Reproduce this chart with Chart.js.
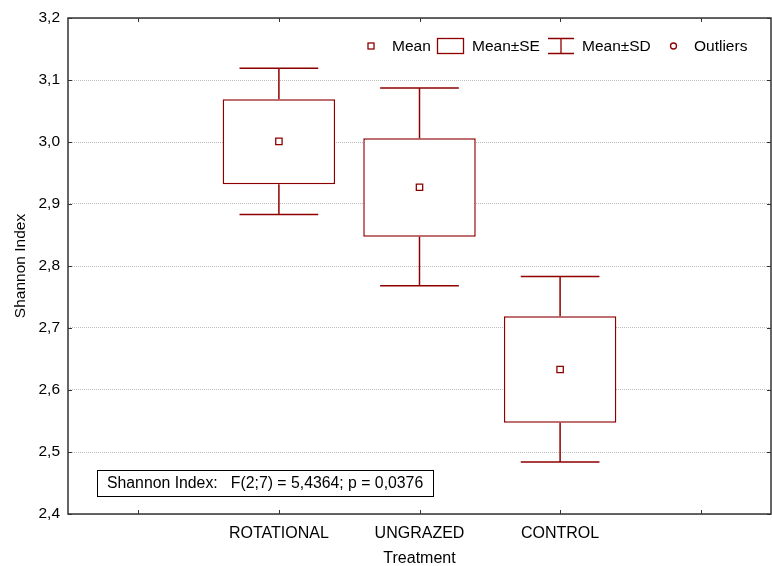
<!DOCTYPE html>
<html>
<head>
<meta charset="utf-8">
<script src="https://cdn.jsdelivr.net/npm/chart.js@4/dist/chart.umd.min.js"></script>
<style>
  body { margin: 0; background: #fff; }
  canvas { display: block; }
</style>
</head>
<body>
<canvas id="shannonChart" width="772" height="566"></canvas>
<script>
// Shannon index by treatment (mean, SE box, SD whiskers)

const categories = ['', 'ROTATIONAL', 'UNGRAZED', 'CONTROL', '']
const meanVals = [null, 3.001, 2.927, 2.633, null]
const seLow = [null, 2.932, 2.847, 2.547, null]
const seHigh = [null, 3.069, 3.006, 2.719, null]
const sdLow = [null, 2.883, 2.768, 2.484, null]
const sdHigh = [null, 3.119, 3.087, 2.783, null]
const legendLabels = ['Mean', 'Mean±SE', 'Mean±SD', 'Outliers']
const statText = 'Shannon Index:   F(2;7) = 5,4364; p = 0,0376'

const RED = '#8e0000'
const FONT = "'Liberation Sans', Arial, sans-serif"

const seBoxes = categories.map((c, i) => seLow[i] == null ? null : [seLow[i], seHigh[i]])

// frame, inward tick marks, whiskers, legend and the stats box
const extrasPlugin = {
    id: 'extras',
    beforeDatasetsDraw(chart) {
        const ctx = chart.ctx
        const x = chart.scales.x
        const y = chart.scales.y
        const half = (x.getPixelForValue(1) - x.getPixelForValue(0)) * 0.28
        ctx.save()
        ctx.strokeStyle = RED
        ctx.lineWidth = 1.5
        for (let i = 0; i < categories.length; i++) {
            if (sdLow[i] == null) continue
            const cx = x.getPixelForValue(i)
            const top = y.getPixelForValue(sdHigh[i])
            const bot = y.getPixelForValue(sdLow[i])
            ctx.beginPath()
            ctx.moveTo(cx, top); ctx.lineTo(cx, y.getPixelForValue(seHigh[i]))
            ctx.moveTo(cx, bot); ctx.lineTo(cx, y.getPixelForValue(seLow[i]))
            ctx.moveTo(cx - half, top); ctx.lineTo(cx + half, top)
            ctx.moveTo(cx - half, bot); ctx.lineTo(cx + half, bot)
            ctx.stroke()
        }
        ctx.restore()
    },
    afterDraw(chart) {
        const ctx = chart.ctx
        const a = chart.chartArea
        const x = chart.scales.x
        const y = chart.scales.y
        ctx.save()
        // ticks
        ctx.strokeStyle = '#333'
        ctx.lineWidth = 1
        ctx.beginPath()
        for (let i = 0; i < categories.length; i++) {
            const px = Math.round(x.getPixelForValue(i)) + 0.5
            ctx.moveTo(px, a.bottom); ctx.lineTo(px, a.bottom - 4)
            ctx.moveTo(px, a.top); ctx.lineTo(px, a.top + 4)
        }
        y.ticks.forEach(t => {
            const py = Math.round(y.getPixelForValue(t.value)) + 0.5
            ctx.moveTo(a.left, py); ctx.lineTo(a.left + 4, py)
            ctx.moveTo(a.right, py); ctx.lineTo(a.right - 4, py)
        })
        ctx.stroke()
        // frame
        ctx.lineWidth = 1.5
        ctx.strokeRect(a.left, a.top, a.right - a.left, a.bottom - a.top)

        // legend
        const ly = 46
        ctx.font = '15.5px ' + FONT
        ctx.textBaseline = 'middle'
        ctx.strokeStyle = RED
        ctx.lineWidth = 1.3
        ctx.fillStyle = '#fff'
        ctx.fillRect(368, ly - 3, 6, 6)
        ctx.strokeRect(368, ly - 3, 6, 6)
        ctx.strokeRect(437.5, ly - 7.5, 26, 15)
        ctx.beginPath()
        ctx.moveTo(548, ly - 7.5); ctx.lineTo(574, ly - 7.5)
        ctx.moveTo(561, ly - 7.5); ctx.lineTo(561, ly + 7.5)
        ctx.moveTo(548, ly + 7.5); ctx.lineTo(574, ly + 7.5)
        ctx.stroke()
        ctx.beginPath()
        ctx.arc(673.5, ly, 3, 0, Math.PI * 2)
        ctx.stroke()
        ctx.fillStyle = '#000'
        const lx = [392, 472, 582, 694]
        legendLabels.forEach((t, i) => ctx.fillText(t, lx[i], ly + 1))

        // stats box
        ctx.fillStyle = '#fff'
        ctx.fillRect(97, 470, 336, 26)
        ctx.strokeStyle = '#000'
        ctx.lineWidth = 1
        ctx.strokeRect(97.5, 470.5, 336, 26)
        ctx.fillStyle = '#000'
        ctx.font = '15.8px ' + FONT
        ctx.fillText(statText, 107, 484)
        ctx.restore()
    }
}

const ctx = document.getElementById('shannonChart')

new Chart(ctx, {
    data: {
        labels: categories,
        datasets: [
            {
                type: 'bar',
                order: 2,
                data: seBoxes,
                backgroundColor: '#fff',
                borderColor: RED,
                borderWidth: 1.5,
                borderSkipped: false,
                barPercentage: 0.8,
                categoryPercentage: 1,
            },
            {
                type: 'line',
                order: 1,
                data: meanVals,
                showLine: false,
                pointStyle: 'rect',
                pointRadius: 4.5,
                pointBackgroundColor: '#fff',
                pointBorderColor: RED,
                pointBorderWidth: 1.3,
            }
        ]
    },
    options: {
        responsive: false,
        animation: false,
        devicePixelRatio: 1,
        layout: { autoPadding: false, padding: { top: 18, right: 1, left: 0, bottom: 0 } },
        plugins: {
            legend: { display: false },
            tooltip: { enabled: false },
        },
        scales: {
            x: {
                offset: true,
                grid: { display: false },
                border: { display: false },
                ticks: { color: '#000', padding: 2, font: { family: FONT, size: 16 } },
                title: {
                    display: true,
                    text: 'Treatment',
                    color: '#000',
                    font: { family: FONT, size: 16 },
                    padding: { top: 0, bottom: -2 },
                },
                afterFit: (scale) => {
                    scale.height = 52
                    scale.paddingLeft = 0
                    scale.paddingRight = 0
                },
            },
            y: {
                min: 2.4,
                max: 3.2,
                grid: {
                    color: '#bdbdbd',
                    drawTicks: false,
                },
                border: { display: false, dash: [1, 1] },
                ticks: {
                    stepSize: 0.1,
                    color: '#000',
                    padding: 8,
                    font: { family: FONT, size: 15.5 },
                    callback: (v) => v.toFixed(1).replace('.', ','),
                },
                title: {
                    display: true,
                    text: 'Shannon Index',
                    color: '#000',
                    font: { family: FONT, size: 15.5 },
                    padding: { top: 11, bottom: 0 },
                },
                afterFit: (scale) => { scale.width = 68 },
            }
        }
    },
    plugins: [extrasPlugin]
})
</script>
</body>
</html>
